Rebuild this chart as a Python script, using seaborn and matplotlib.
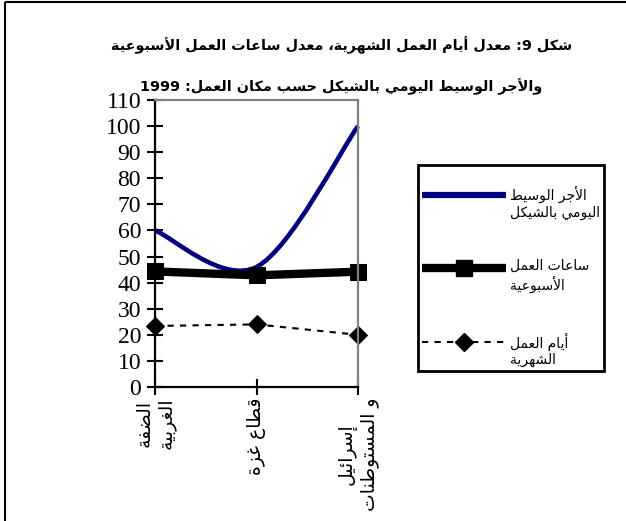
import re
import numpy as np
import matplotlib
matplotlib.use("Agg")
import matplotlib.pyplot as plt
from matplotlib.lines import Line2D
from matplotlib.path import Path
from matplotlib.patches import PathPatch
import seaborn as sns

# data
title_lines = ["شكل 9: معدل أيام العمل الشهرية، معدل ساعات العمل الأسبوعية",
               "والأجر الوسيط اليومي بالشيكل حسب مكان العمل: 1999"]
places = ["الضفة\nالغربية", "قطاع غزة", "إسرائيل\nو المستوطنات"]
series_names = ["الأجر الوسيط\nاليومي بالشيكل", "ساعات العمل\nالأسبوعية", "أيام العمل\nالشهرية"]
daily_wage = [60, 46, 100]
weekly_hours = [44.3, 42.8, 44.2]
monthly_days = [23.4, 24.0, 20.0]
y_ticks = list(range(0, 111, 10))

# --- minimal arabic shaping (matplotlib has no bidi / shaping) ---
DUAL = {'ئ': 0xFE89, 'ب': 0xFE8F, 'ت': 0xFE95, 'ث': 0xFE99, 'ج': 0xFE9D, 'ح': 0xFEA1,
        'خ': 0xFEA5, 'س': 0xFEB1, 'ش': 0xFEB5, 'ص': 0xFEB9, 'ض': 0xFEBD, 'ط': 0xFEC1,
        'ظ': 0xFEC5, 'ع': 0xFEC9, 'غ': 0xFECD, 'ف': 0xFED1, 'ق': 0xFED5, 'ك': 0xFED9,
        'ل': 0xFEDD, 'م': 0xFEE1, 'ن': 0xFEE5, 'ه': 0xFEE9, 'ي': 0xFEF1}
RIGHT = {'آ': 0xFE81, 'أ': 0xFE83, 'ؤ': 0xFE85, 'إ': 0xFE87, 'ا': 0xFE8D, 'ة': 0xFE93,
         'د': 0xFEA9, 'ذ': 0xFEAB, 'ر': 0xFEAD, 'ز': 0xFEAF, 'و': 0xFEED, 'ى': 0xFEEF}
LAM_ALEF = {'آ': 0xFEF5, 'أ': 0xFEF7, 'إ': 0xFEF9, 'ا': 0xFEFB}


def shape(text):
    out = []
    prev_joins = False
    i = 0
    while i < len(text):
        c = text[i]
        nxt = text[i + 1] if i + 1 < len(text) else ''
        if c == 'ل' and nxt in LAM_ALEF:
            out.append(chr(LAM_ALEF[nxt] + (1 if prev_joins else 0)))
            prev_joins = False
            i += 2
            continue
        if c in DUAL or c in RIGHT:
            base = DUAL.get(c, RIGHT.get(c))
            joins_next = c in DUAL and (nxt in DUAL or nxt in RIGHT)
            if prev_joins and joins_next:
                form = 3
            elif prev_joins:
                form = 1
            elif joins_next:
                form = 2
            else:
                form = 0
            out.append(chr(base + form))
            prev_joins = c in DUAL
        else:
            out.append(c)
            prev_joins = False
        i += 1
    return ''.join(out)


def rtl(text):
    lines = []
    for line in text.split('\n'):
        parts = re.findall(r'\d+|\D', shape(line))
        lines.append(''.join(reversed(parts)))
    return '\n'.join(lines)


def smooth_path(xs, ys):
    """Excel-style smoothed line as cubic bezier through the data points."""
    pts = np.column_stack([xs, ys]).astype(float)
    verts, codes = [pts[0]], [Path.MOVETO]
    n = len(pts)
    for i in range(n - 1):
        p0 = pts[i - 1] if i > 0 else pts[i]
        p1, p2 = pts[i], pts[i + 1]
        p3 = pts[i + 2] if i + 2 < n else pts[i + 1]
        verts += [p1 + (p2 - p0) / 6, p2 - (p3 - p1) / 6, p2]
        codes += [Path.CURVE4] * 3
    return Path(verts, codes)


sns.set_theme(style="white")
plt.rcParams['font.family'] = ['DejaVu Sans']
for key in ["text.color", "axes.labelcolor", "xtick.color", "ytick.color"]:
    plt.rcParams[key] = "black"
plt.rcParams['lines.solid_capstyle'] = 'butt'

fig = plt.figure(figsize=(6.26, 5.21), dpi=100)
ax = fig.add_axes([155 / 626, 1 - 387 / 521, 203 / 626, 287 / 521])

pos = np.arange(len(places))
navy = "#000080"

ax.add_patch(PathPatch(smooth_path(pos, daily_wage), fill=False, edgecolor=navy,
                       linewidth=3.3, clip_on=False, capstyle='butt'))
sns.lineplot(x=pos, y=weekly_hours, ax=ax, color="black", linewidth=6,
             marker="s", markersize=12, markeredgecolor="black", clip_on=False)
sns.lineplot(x=pos, y=monthly_days, ax=ax, color="black", linewidth=1.5,
             linestyle=(0, (3, 3)), marker="D", markersize=9,
             markeredgecolor="black", clip_on=False)

ax.set_xlim(0, 2)
ax.set_ylim(0, 110)
ax.set_yticks(y_ticks)
ax.set_yticklabels([str(v) for v in y_ticks], family="Liberation Serif", fontsize=17)
ax.set_xticks(pos)
ax.set_xticklabels([rtl(p) for p in places], rotation=90, fontsize=13.5,
                   ha="center", va="top")
ax.tick_params(axis="both", direction="inout", length=12, width=1.5,
               color="black", pad=4, left=True, bottom=True)
ax.tick_params(axis="x", pad=1.5)

for side in ["left", "bottom"]:
    ax.spines[side].set_color("black")
    ax.spines[side].set_linewidth(1.6)
for side in ["top", "right"]:
    ax.spines[side].set_color("#808080")
    ax.spines[side].set_linewidth(1.6)

# legend: blank first line so the handle sits on the first text line
handles = [Line2D([], [], color=navy, linewidth=4.5),
           Line2D([], [], color="black", linewidth=6, marker="s", markersize=12),
           Line2D([], [], color="black", linewidth=1.5, linestyle=(0, (3, 3)),
                  marker="D", markersize=9)]
labels = [" \n" + rtl(s) for s in series_names]
leg = fig.legend(handles, labels, loc="upper left",
                 bbox_to_anchor=(418 / 626, 1 - 165 / 521),
                 fontsize=10, frameon=True, fancybox=False, shadow=False,
                 framealpha=1, handlelength=6.0, handletextpad=0.3,
                 labelspacing=1.65, borderpad=0.3, borderaxespad=0, numpoints=1)
leg.get_frame().set_edgecolor("black")
leg.get_frame().set_linewidth(2)

fig.text(0.545, 1 - 45 / 521, rtl(title_lines[0]), ha="center", va="center",
         fontsize=10.4, fontweight="bold")
fig.text(0.545, 1 - 87 / 521, rtl(title_lines[1]), ha="center", va="center",
         fontsize=10.4, fontweight="bold")

# outer frame (top and left edges only visible in the reference)
fig.add_artist(Line2D([5 / 626, 5 / 626], [0, 1 - 2 / 521], color="black",
                      linewidth=1.5, transform=fig.transFigure))
fig.add_artist(Line2D([5 / 626, 1], [1 - 2 / 521, 1 - 2 / 521], color="black",
                      linewidth=1.5, transform=fig.transFigure))

fig.savefig("out.png", dpi=100)
